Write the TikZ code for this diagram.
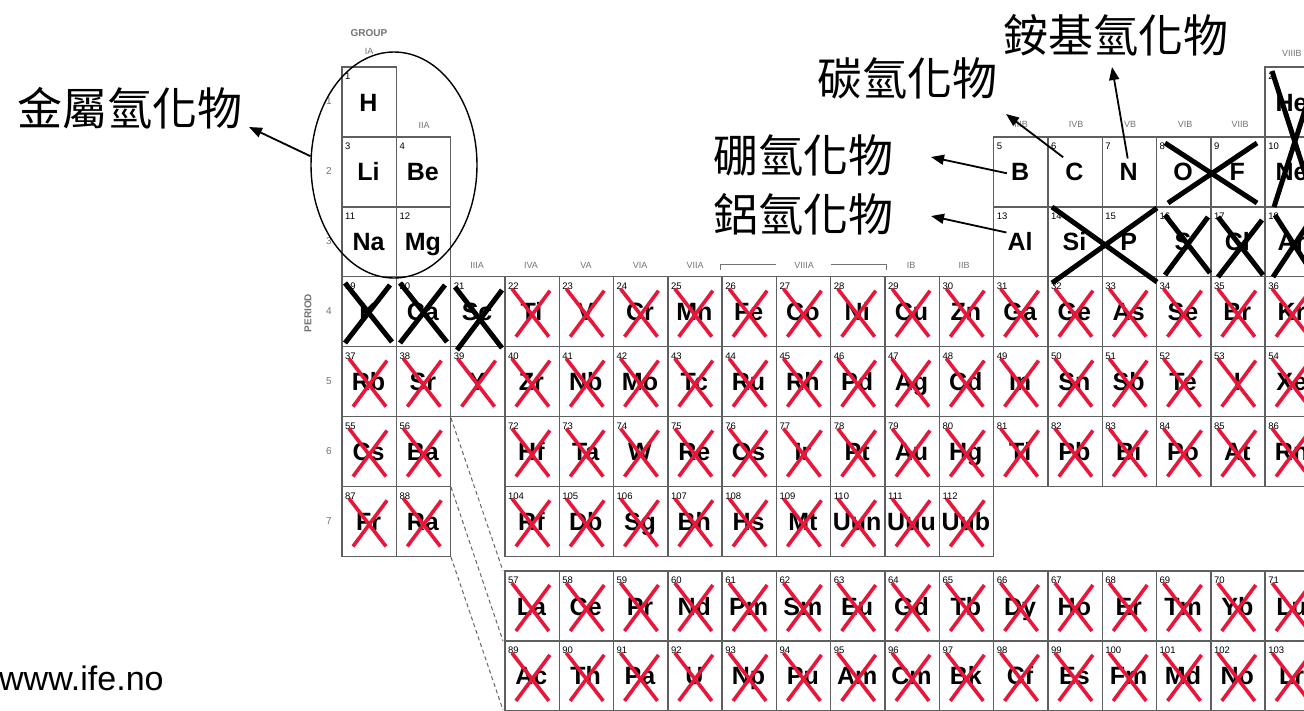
\documentclass[tikz,border=0pt]{standalone}
\usepackage{fontspec}
\setmainfont{Liberation Sans}
\newfontfamily\cjk{Noto Sans CJK TC}
\usetikzlibrary{arrows.meta,shapes.geometric,calc}
\definecolor{xred}{RGB}{232,22,58}
\definecolor{lblgray}{RGB}{115,115,115}
\definecolor{cellgray}{RGB}{95,95,95}
\newcommand\CW{54.3}
\newcommand\CH{69.9}
\newcommand\elem[4]{%
  \pgfmathsetmacro\ex{342+(#1-1)*\CW}%
  \draw[cellbox] (\ex,#2) rectangle ++(\CW,\CH);%
  \node[enum] at (\ex+3,#2+6) {#3};%
  \node[esym] (e#3) at (\ex+26.5,#2+44) {#4};%
}
\newcommand\elemx[4]{%
  \elem{#1}{#2}{#3}{#4}%
  \pgfmathsetmacro\ex{342+(#1-1)*\CW}%
  \draw[redx] (\ex+7,#2+12) -- (\ex+44,#2+60);%
  \draw[redx] (\ex+45,#2+14) -- (\ex+11,#2+60);%
}
\tikzset{
  cellbox/.style={draw=cellgray,line width=1.4pt},
  enum/.style={font=\fontsize{9.5}{9.5}\selectfont,anchor=north west,inner sep=0pt},
  esym/.style={font=\bfseries\fontsize{25}{25}\selectfont,anchor=base,inner sep=0pt},
  redx/.style={draw=xred,line width=3.6pt},
  blackx/.style={draw=black,line width=5pt},
  glbl/.style={font=\fontsize{9}{9}\selectfont,text=lblgray,inner sep=0pt},
  plbl/.style={font=\fontsize{10}{10}\selectfont,text=lblgray,inner sep=0pt},
  lbl/.style={font=\cjk\fontsize{45}{45}\selectfont,inner sep=0pt},
  arr/.style={draw=black,line width=1.8pt,-{Triangle[length=13pt,width=10pt]}},
  dline/.style={draw=black!60,line width=1pt,dash pattern=on 4pt off 3pt},
}
\begin{document}
\begin{tikzpicture}[x=1pt,y=-1pt]
\useasboundingbox (0,0) rectangle (1304,710);
\fill[white] (0,0) rectangle (1304,710);
\clip (0,0) rectangle (1304,710);

% group labels
\node[font=\bfseries\fontsize{10}{10}\selectfont,text=lblgray,inner sep=0pt] (gGROUP) at (369,33) {GROUP};
\node[glbl] (gIA) at (369,51) {IA};
\node[glbl] (gIIA) at (424,125) {IIA};
\foreach \x/\t [count=\i] in {477/IIIA,531/IVA,586/VA,640/VIA,695/VIIA,804/VIIIA,911/IB,964/IIB}
  \node[glbl] (gA\i) at (\x,265) {\t};
\draw[black!55,line width=0.8pt] (720,270) -- (720,264) -- (776,264);
\draw[black!55,line width=0.8pt] (831,264) -- (886,264) -- (886,270);
\foreach \x/\t [count=\i] in {1021/IIIB,1076/IVB,1130/VB,1185/VIB,1240/VIIB}
  \node[glbl] (gB\i) at (\x,124) {\t};
\node[glbl,anchor=west] (gB6) at (1282,53) {VIIIB};

% period labels
\foreach \p/\y in {1/101,2/171,3/241,4/311,5/381,6/451,7/521}
  \node[plbl] (p\p) at (329,\y) {\p};
\node[font=\bfseries\fontsize{10}{10}\selectfont,text=lblgray,inner sep=0pt,rotate=90] (period) at (308,313) {PERIOD};

% row 1
\elem{1}{67}{1}{H}
\elem{18}{67}{2}{He}
% row 2
\foreach \c/\n/\s in {1/3/Li,2/4/Be,13/5/B,14/6/C,15/7/N,16/8/O,17/9/F,18/10/Ne}
  {\elem{\c}{136.9}{\n}{\s}}
% row 3
\foreach \c/\n/\s in {1/11/Na,2/12/Mg,13/13/Al,14/14/Si,15/15/P,16/16/S,17/17/Cl,18/18/Ar}
  {\elem{\c}{206.8}{\n}{\s}}
% row 4
\foreach \c/\n/\s in {1/19/K,2/20/Ca,3/21/Sc}
  {\elem{\c}{276.7}{\n}{\s}}
\foreach \c/\n/\s in {4/22/Ti,5/23/V,6/24/Cr,7/25/Mn,8/26/Fe,9/27/Co,10/28/Ni,11/29/Cu,12/30/Zn,13/31/Ga,14/32/Ge,15/33/As,16/34/Se,17/35/Br,18/36/Kr}
  {\elemx{\c}{276.7}{\n}{\s}}
% row 5
\foreach \c/\n/\s in {1/37/Rb,2/38/Sr,3/39/Y,4/40/Zr,5/41/Nb,6/42/Mo,7/43/Tc,8/44/Ru,9/45/Rh,10/46/Pd,11/47/Ag,12/48/Cd,13/49/In,14/50/Sn,15/51/Sb,16/52/Te,17/53/I,18/54/Xe}
  {\elemx{\c}{346.6}{\n}{\s}}
% row 6
\foreach \c/\n/\s in {1/55/Cs,2/56/Ba,4/72/Hf,5/73/Ta,6/74/W,7/75/Re,8/76/Os,9/77/Ir,10/78/Pt,11/79/Au,12/80/Hg,13/81/Tl,14/82/Pb,15/83/Bi,16/84/Po,17/85/At,18/86/Rn}
  {\elemx{\c}{416.5}{\n}{\s}}
% row 7
\foreach \c/\n/\s in {1/87/Fr,2/88/Ra,4/104/Rf,5/105/Db,6/106/Sg,7/107/Bh,8/108/Hs,9/109/Mt,10/110/Uun,11/111/Uuu,12/112/Uub}
  {\elemx{\c}{486.4}{\n}{\s}}
% lanthanides
\foreach \c/\n/\s in {4/57/La,5/58/Ce,6/59/Pr,7/60/Nd,8/61/Pm,9/62/Sm,10/63/Eu,11/64/Gd,12/65/Tb,13/66/Dy,14/67/Ho,15/68/Er,16/69/Tm,17/70/Yb,18/71/Lu}
  {\elemx{\c}{571}{\n}{\s}}
% actinides
\foreach \c/\n/\s in {4/89/Ac,5/90/Th,6/91/Pa,7/92/U,8/93/Np,9/94/Pu,10/95/Am,11/96/Cm,12/97/Bk,13/98/Cf,14/99/Es,15/100/Fm,16/101/Md,17/102/No,18/103/Lr}
  {\elemx{\c}{640.9}{\n}{\s}}

% dashed guide lines
\coordinate (d1a) at (451,418); \coordinate (d1b) at (503,571);
\coordinate (d2a) at (451,487); \coordinate (d2b) at (503,641);
\coordinate (d3a) at (451,557); \coordinate (d3b) at (503,710);
\draw[dline] (d1a) -- (d1b);
\draw[dline] (d2a) -- (d2b);
\draw[dline] (d3a) -- (d3b);

% black crosses
\draw[blackx] (345,283) -- (392,342); \draw[blackx] (390,285) -- (345,343);
\draw[blackx] (400,283) -- (447,342); \draw[blackx] (445,285) -- (400,343);
\draw[blackx] (455,287) -- (502,348); \draw[blackx] (502,290) -- (457,350);
\draw[blackx] (1052,207) -- (1157,282); \draw[blackx] (1157,208) -- (1052,283);
\draw[blackx] (1165,143) -- (1257,203); \draw[blackx] (1257,143) -- (1168,203);
\draw[blackx] (1165,215) -- (1210,273); \draw[blackx] (1208,217) -- (1165,275);
\draw[blackx] (1218,217) -- (1263,275); \draw[blackx] (1262,220) -- (1218,277);
\draw[blackx] (1275,215) -- (1320,285); \draw[blackx] (1273,277) -- (1320,206);
\draw[blackx] (1272,71) -- (1312,195); \draw[blackx] (1274,207) -- (1312,88);

% metal hydride ellipse
\node[draw,ellipse,line width=1.4pt,minimum width=166pt,minimum height=226pt,inner sep=0pt] (grp) at (394,165) {};

% labels
\node[lbl] (Lmetal) at (130,108) {金屬氫化物};
\node[lbl] (Lcarbon) at (907,78) {碳氫化物};
\node[lbl] (Lammon) at (1116,35) {銨基氫化物};
\node[lbl] (Lboron) at (803,155) {硼氫化物};
\node[lbl] (Lalum) at (803,214) {鋁氫化物};

% arrow tips
\coordinate (tipM) at (249,127);
\coordinate (tipC) at (1006,114);
\coordinate (tipN) at (1112,67);
\coordinate (tipB) at (931,157);
\coordinate (tipA) at (931,216);
\draw[arr] (grp.174) -- (tipM);
\draw[arr] ($(e6.north west)+(-2,-6)$) -- (tipC);
\draw[arr] ($(e7.north)+(-1,-5)$) -- (tipN);
\draw[arr] ($(e5.west)+(-4,1)$) -- (tipB);
\draw[arr] ($(e13.north west)+(-1,0)$) -- (tipA);

\node[font=\fontsize{34}{34}\selectfont,anchor=base west,inner sep=0pt] (url) at (-1,690) {www.ife.no};
\end{tikzpicture}
\end{document}
